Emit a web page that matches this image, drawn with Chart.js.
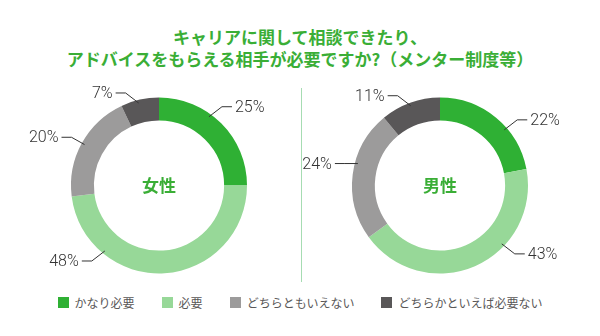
<!DOCTYPE html>
<html lang="ja">
<head>
<meta charset="utf-8">
<script src="https://cdn.jsdelivr.net/npm/chart.js@4.4.1/dist/chart.umd.min.js"></script>
<style>
  html, body { margin:0; padding:0; background:#fff; }
  #wrap { position:relative; width:600px; height:336px; overflow:hidden; font-family:"Noto Sans CJK JP", sans-serif; }
  #title { position:absolute; left:0; top:26px; width:600px; text-align:center; color:#3aae36; font-size:17px; font-weight:700; line-height:22px; }
  .cv { position:absolute; top:80px; }
  #divider { position:absolute; left:301px; top:88px; width:1px; height:194px; background:#a6dcb2; }
  #legend { position:absolute; left:0; top:296px; width:600px; display:flex; justify-content:center; gap:27px; font-size:12px; color:#595757; line-height:13px; }
  .li { display:flex; align-items:center; }
  .sw { width:11px; height:11px; margin-right:6px; }
</style>
</head>
<body>
<div id="wrap">
  <div id="title"></div>
  <canvas id="cF" class="cv" width="300" height="210" style="left:0px"></canvas>
  <canvas id="cM" class="cv" width="300" height="210" style="left:300px"></canvas>
  <div id="divider"></div>
  <div id="legend"></div>
</div>
<script>
// ---- data ----
const titleLines = ['キャリアに関して相談できたり、', 'アドバイスをもらえる相手が必要ですか?（メンター制度等）'];
const categories = ['かなり必要', '必要', 'どちらともいえない', 'どちらかといえば必要ない'];
const femaleValues = [25, 48, 20, 7];
const maleValues = [22, 43, 24, 11];
const groupLabels = ['女性', '男性'];

// ---- styles ----
const colors = ['#2fb034', '#97d898', '#9c9b9b', '#595758'];
const femaleAnchors = [0.40, 0.75, 0.5, 0.45];
const maleAnchors = [0.62, 0.35, 0.59, 0.49];

document.getElementById('title').innerHTML = titleLines.join('<br>');
const lg = document.getElementById('legend');
categories.forEach((c, i) => {
  const d = document.createElement('div'); d.className = 'li';
  const s = document.createElement('span'); s.className = 'sw'; s.style.background = colors[i];
  const t = document.createElement('span'); t.textContent = c;
  d.appendChild(s); d.appendChild(t); lg.appendChild(d);
});

const labelPlugin = {
  id: 'pctLabels',
  afterDatasetsDraw(chart, args, opts) {
    const ctx = chart.ctx;
    const meta = chart.getDatasetMeta(0);
    const data = chart.data.datasets[0].data;
    let cx = 0, cy = 0;
    ctx.save();
    meta.data.forEach((arc, i) => {
      const p = arc.getProps(['x', 'y', 'startAngle', 'endAngle', 'outerRadius', 'innerRadius'], true);
      cx = p.x; cy = p.y;
      const a = p.startAngle + opts.anchors[i] * (p.endAngle - p.startAngle);
      const dx = Math.cos(a), dy = Math.sin(a);
      const r = p.outerRadius - 3;
      const sx = p.x + dx * r, sy = p.y + dy * r;
      const hx = dx >= 0 ? 1 : -1, vy = dy >= 0 ? 1 : -1;
      const k = Math.min(1, Math.max(0, (Math.abs(dy) - 0.3) / 0.25));
      const ex = sx + hx * 13, ey = sy + vy * 10 * k;
      const tx = ex + hx * 10;
      ctx.strokeStyle = '#333';
      ctx.lineWidth = 1;
      ctx.beginPath();
      ctx.moveTo(sx, sy); ctx.lineTo(ex, ey); ctx.lineTo(tx, ey);
      ctx.stroke();
      ctx.fillStyle = '#333';
      ctx.font = '300 16px Roboto, "Liberation Sans", sans-serif';
      ctx.textAlign = hx > 0 ? 'left' : 'right';
      ctx.textBaseline = 'middle';
      ctx.fillText(data[i] + '%', tx + hx * 3, ey + 1);
    });
    ctx.fillStyle = '#3aae36';
    ctx.font = 'bold 17px "Noto Sans CJK JP", sans-serif';
    ctx.textAlign = 'center';
    ctx.textBaseline = 'middle';
    ctx.fillText(opts.center, cx, cy);
    ctx.restore();
  }
};

function makeChart(id, values, anchors, center, pad) {
  return new Chart(document.getElementById(id), {
    type: 'doughnut',
    data: {
      labels: categories,
      datasets: [{ data: values, backgroundColor: colors, borderWidth: 0 }]
    },
    options: {
      responsive: false,
      animation: false,
      cutout: '74%',
      layout: { padding: pad },
      plugins: {
        legend: { display: false },
        tooltip: { enabled: false },
        pctLabels: { anchors: anchors, center: center }
      }
    },
    plugins: [labelPlugin]
  });
}

makeChart('cF', femaleValues, femaleAnchors, groupLabels[0], { left: 71, right: 53, top: 17.5, bottom: 16.5 });
makeChart('cM', maleValues, maleAnchors, groupLabels[1], { left: 52, right: 72, top: 17.5, bottom: 16.5 });
</script>
</body>
</html>
